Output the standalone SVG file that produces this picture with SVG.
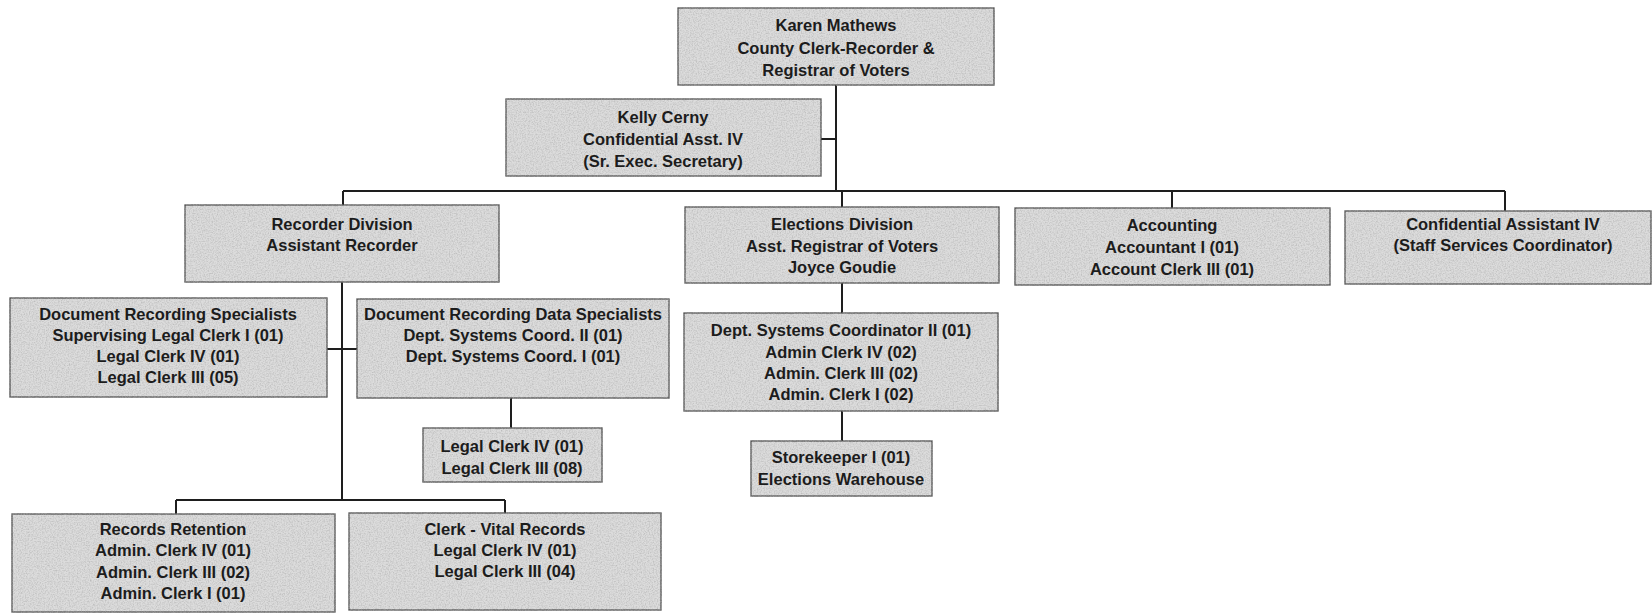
<svg xmlns="http://www.w3.org/2000/svg" width="1652" height="615" viewBox="0 0 1652 615">
<style>
.box{fill:#dcdcdc;stroke:#4a4a4a;stroke-width:1.3;filter:url(#grain)}
.t{font-family:"Liberation Sans",Arial,sans-serif;font-weight:bold;font-size:16.5px;fill:#1c1c1c;text-anchor:middle}
.c{fill:none;stroke:#1e1e1e;stroke-width:2}
</style>
<defs>
<filter id="grain" x="-0.02" y="-0.05" width="1.04" height="1.1">
<feTurbulence type="fractalNoise" baseFrequency="0.75" numOctaves="2" seed="7" result="noise"/>
<feColorMatrix in="noise" type="matrix" values="0 0 0 0 0.4  0 0 0 0 0.4  0 0 0 0 0.4  0 0 0 1.3 -0.5" result="speck"/>
<feComposite in="speck" in2="SourceGraphic" operator="in" result="speckIn"/>
<feMerge><feMergeNode in="SourceGraphic"/><feMergeNode in="speckIn"/></feMerge>
</filter>
</defs>
<rect width="1652" height="615" fill="#ffffff"/>
<g id="connectors">
<path class="c" d="M836 85V191M821 139H836M343 191H1505M343 191V205M842 191V207M1172 191V208M1505 191V211"/>
<path class="c" d="M342 282V500M327 349H357M176 500H505M176 500V514M505 500V513M511 398V428"/>
<path class="c" d="M842 283V313M842 411V441"/>
</g>
<g id="karen">
<rect class="box" x="678" y="8" width="316" height="77"/>
<text class="t" x="836" y="31">Karen Mathews</text>
<text class="t" x="836" y="54">County Clerk-Recorder &amp;</text>
<text class="t" x="836" y="76">Registrar of Voters</text>
</g>
<g id="kelly">
<rect class="box" x="506" y="99" width="315" height="77"/>
<text class="t" x="663" y="123">Kelly Cerny</text>
<text class="t" x="663" y="145">Confidential Asst. IV</text>
<text class="t" x="663" y="167">(Sr. Exec. Secretary)</text>
</g>
<g id="recorder">
<rect class="box" x="185" y="205" width="314" height="77"/>
<text class="t" x="342" y="230">Recorder Division</text>
<text class="t" x="342" y="251">Assistant Recorder</text>
</g>
<g id="elections">
<rect class="box" x="685" y="207" width="314" height="76"/>
<text class="t" x="842" y="230">Elections Division</text>
<text class="t" x="842" y="252">Asst. Registrar of Voters</text>
<text class="t" x="842" y="273">Joyce Goudie</text>
</g>
<g id="accounting">
<rect class="box" x="1015" y="208" width="315" height="77"/>
<text class="t" x="1172" y="231">Accounting</text>
<text class="t" x="1172" y="253">Accountant I (01)</text>
<text class="t" x="1172" y="275">Account Clerk III (01)</text>
</g>
<g id="confidential">
<rect class="box" x="1345" y="211" width="306" height="73"/>
<text class="t" x="1503" y="230">Confidential Assistant IV</text>
<text class="t" x="1503" y="251">(Staff Services Coordinator)</text>
</g>
<g id="doc-recording">
<rect class="box" x="10" y="298" width="317" height="99"/>
<text class="t" x="168" y="320">Document Recording Specialists</text>
<text class="t" x="168" y="341">Supervising Legal Clerk I (01)</text>
<text class="t" x="168" y="362">Legal Clerk IV (01)</text>
<text class="t" x="168" y="383">Legal Clerk III (05)</text>
</g>
<g id="doc-data">
<rect class="box" x="357" y="299" width="312" height="99"/>
<text class="t" x="513" y="320">Document Recording Data Specialists</text>
<text class="t" x="513" y="341">Dept. Systems Coord. II (01)</text>
<text class="t" x="513" y="362">Dept. Systems Coord. I (01)</text>
</g>
<g id="elections-staff">
<rect class="box" x="684" y="313" width="314" height="98"/>
<text class="t" x="841" y="336">Dept. Systems Coordinator II (01)</text>
<text class="t" x="841" y="358">Admin Clerk IV (02)</text>
<text class="t" x="841" y="379">Admin. Clerk III (02)</text>
<text class="t" x="841" y="400">Admin. Clerk I (02)</text>
</g>
<g id="legal-clerks">
<rect class="box" x="423" y="428" width="179" height="54"/>
<text class="t" x="512" y="452">Legal Clerk IV (01)</text>
<text class="t" x="512" y="474">Legal Clerk III (08)</text>
</g>
<g id="storekeeper">
<rect class="box" x="751" y="441" width="181" height="55"/>
<text class="t" x="841" y="463">Storekeeper I (01)</text>
<text class="t" x="841" y="485">Elections Warehouse</text>
</g>
<g id="records-retention">
<rect class="box" x="12" y="514" width="323" height="98"/>
<text class="t" x="173" y="535">Records Retention</text>
<text class="t" x="173" y="556">Admin. Clerk IV (01)</text>
<text class="t" x="173" y="578">Admin. Clerk III (02)</text>
<text class="t" x="173" y="599">Admin. Clerk I (01)</text>
</g>
<g id="vital-records">
<rect class="box" x="349" y="513" width="312" height="97"/>
<text class="t" x="505" y="535">Clerk - Vital Records</text>
<text class="t" x="505" y="556">Legal Clerk IV (01)</text>
<text class="t" x="505" y="577">Legal Clerk III (04)</text>
</g>
</svg>
